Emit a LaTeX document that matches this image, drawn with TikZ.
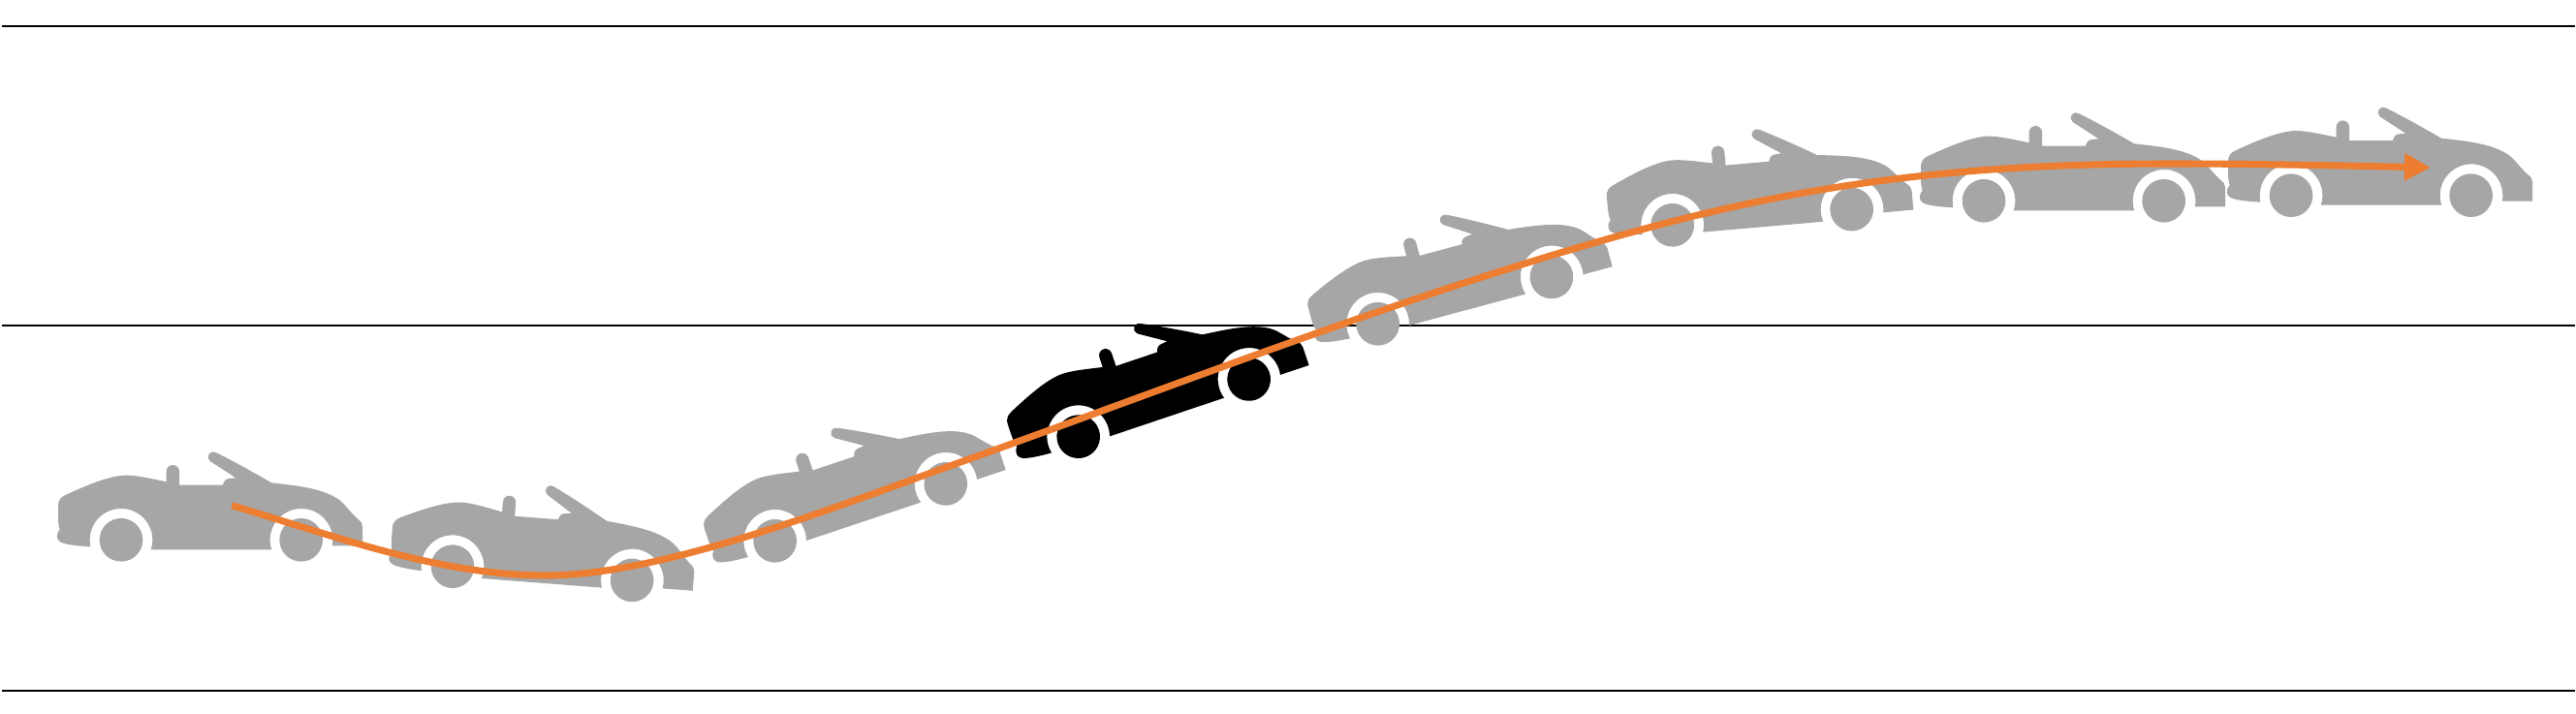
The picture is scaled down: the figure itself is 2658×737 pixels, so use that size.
\documentclass[tikz,border=0pt]{standalone}
\usepackage{xcolor}
\usetikzlibrary{arrows.meta}
\definecolor{cargray}{HTML}{A6A6A6}
\definecolor{pathorange}{HTML}{ED7D31}
\tikzset{
    car/.pic={
        \begin{scope}[scale=1/3]
        \path[pic actions] (-94.7,-21) .. controls (-130,-19) and (-165,-16) .. (-185,-8)
            .. controls (-200,-2) and (-204,15) .. (-190,32)
            .. controls (-193,40) and (-195,52) .. (-195,70) -- (-195,102)
            .. controls (-195,128) and (-188,132) .. (-155,147)
            .. controls (-125,160) and (-40,200) .. (15,200)
            .. controls (50,200) and (100,188) .. (140,180) -- (140,212)
            arc[start angle=180,end angle=0,radius=20] -- (180,170) -- (315,170)
            .. controls (317,182) and (325,190) .. (335,190) -- (355,192) -- (275,244)
            arc[start angle=232,end angle=52,radius=16.4]
            .. controls (345,245) and (405,212) .. (465,177)
            .. controls (545,168) and (625,160) .. (675,124)
            .. controls (695,108) and (710,85) .. (730,67)
            .. controls (742,57) and (747,52) .. (747,42) -- (747,-18) -- (653.3,-18)
            arc[start angle=-10.6,end angle=198,radius=97] -- (92.2,-30)
            arc[start angle=-18,end angle=192.5,radius=97] -- cycle;
        \path[pic actions] (0,0) circle[radius=67];
        \path[pic actions] (557,0) circle[radius=67];
        \end{scope}
    }
}

\begin{document}
\begin{tikzpicture}[x=0.01cm,y=0.01cm,>=stealth]
    \tikzstyle{guide}=[draw=black,line width=0.65pt]
    \tikzstyle{parked}=[fill=cargray]
    \tikzstyle{driven}=[fill=black]
    \tikzstyle{trace}=[draw=pathorange,line width=2pt,-{Triangle[length=0.27cm,width=0.27cm]}]
    \useasboundingbox (0,0) rectangle (2658,737);
    \coordinate (topL) at (2,710);
    \coordinate (topR) at (2657,710);
    \coordinate (midL) at (2,401);
    \coordinate (midR) at (2657,401);
    \coordinate (lowL) at (2,24);
    \coordinate (lowR) at (2657,24);
    \draw[guide] (topL) -- (topR);
    \draw[guide] (midL) -- (midR);
    \draw[guide] (lowL) -- (lowR);

    \pic[parked] (carA) at (125,179.7) {car};
    \pic[parked,rotate=-4.4] (carB) at (467,152.3) {car};
    \pic[parked,rotate=18.5] (carC) at (799.7,178.7) {car};
    \pic[driven,rotate=18.6] (carD) at (1112.7,286.3) {car};
    \pic[parked,rotate=15.1] (carE) at (1421.7,402.7) {car};
    \pic[parked,rotate=5] (carF) at (1725.7,504.7) {car};
    \pic[parked] (carG) at (2047,529.7) {car};
    \pic[parked] (carH) at (2364,535.3) {car};

    \coordinate (start) at (239.3,215.3);
    \coordinate (low) at (563,143);
    \coordinate (rise) at (1020,270.3);
    \coordinate (bend) at (1690,499);
    \coordinate (top) at (2240,568);
    \coordinate (goal) at (2508,564);
    \draw[trace] (start) .. controls (347,183) and (455,143) .. (low)
        .. controls (690,143) and (880,221) .. (rise)
        .. controls (1240,349.5) and (1470,439) .. (bend)
        .. controls (1880,551) and (2040,568) .. (top)
        .. controls (2320,568) and (2420,566) .. (goal);
\end{tikzpicture}
\end{document}
